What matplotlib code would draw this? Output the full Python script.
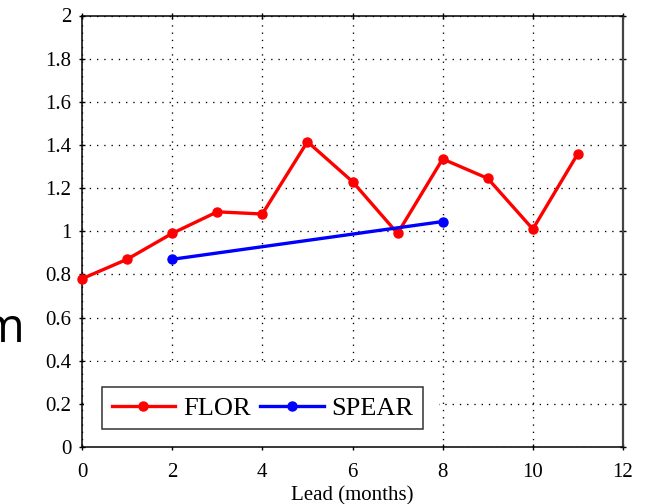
import matplotlib
matplotlib.use("Agg")
import matplotlib.pyplot as plt
from matplotlib.patches import Rectangle
from matplotlib.ticker import FuncFormatter

# Forecast error by lead time
flor_lead = [0, 1, 2, 3, 4, 5, 6, 7, 8, 9, 10, 11]
flor_vals = [0.78, 0.87, 0.99, 1.09, 1.08, 1.415, 1.23, 0.99, 1.335, 1.245, 1.01, 1.36]
spear_lead = [2, 8]
spear_vals = [0.87, 1.045]

x_ticks = [0, 2, 4, 6, 8, 10, 12]
y_ticks = [0, 0.2, 0.4, 0.6, 0.8, 1.0, 1.2, 1.4, 1.6, 1.8, 2.0]

plt.rcParams["font.family"] = ["Liberation Serif", "DejaVu Serif"]

fig = plt.figure(figsize=(6.45, 5.04), dpi=100)
ax = fig.add_axes([82 / 645, 1 - 447 / 504, 541 / 645, 431.5 / 504])

ax.set_xlim(0, 12)
ax.set_ylim(0, 2)
ax.set_xticks(x_ticks)
ax.set_yticks(y_ticks)
ax.yaxis.set_major_formatter(FuncFormatter(lambda v, p: f"{v:g}"))

ax.set_axisbelow(True)
ax.grid(True, color="black", linestyle=(0, (1, 4.5)), linewidth=0.95)

# white backing behind the legend area
ax.add_patch(Rectangle((0.003, 0.0), 0.657, 0.196, transform=ax.transAxes,
                       facecolor="white", edgecolor="none", zorder=1))

ax.plot(flor_lead, flor_vals, color="red", lw=2.4, marker="o", ms=6.5,
        label="FLOR", zorder=3, clip_on=False)
ax.plot(spear_lead, spear_vals, color="blue", lw=2.4, marker="o", ms=6.5,
        label="SPEAR", zorder=3, clip_on=False)

ax.tick_params(direction="inout", length=5, width=1, labelsize=15,
               top=True, right=True, color="black")
ax.tick_params(axis="x", pad=9)
ax.tick_params(axis="y", pad=5)
for side in ["left", "bottom", "top"]:
    ax.spines[side].set_linewidth(1.1)
ax.spines["right"].set_linewidth(1.6)
ax.spines["right"].set_color("#444444")

ax.set_xlabel("Lead (months)", fontsize=15)
ax.xaxis.set_label_coords(0.5, -0.091)
ax.xaxis.label.set_va("top")

leg = ax.legend(loc="lower left", bbox_to_anchor=(0.037, 0.041), ncol=2,
                fontsize=19, frameon=True, fancybox=False, borderaxespad=0,
                handlelength=2.4, handletextpad=0.3, columnspacing=0.38,
                borderpad=0.36)
leg.get_frame().set_edgecolor("black")
leg.get_frame().set_linewidth(1.1)
leg.set_zorder(5)

fig.text(25 / 645, 1 - 342 / 504, "m", ha="right", va="baseline",
         fontsize=34, family=["Open Sans", "DejaVu Sans"])

fig.savefig("out.png", dpi=100)
